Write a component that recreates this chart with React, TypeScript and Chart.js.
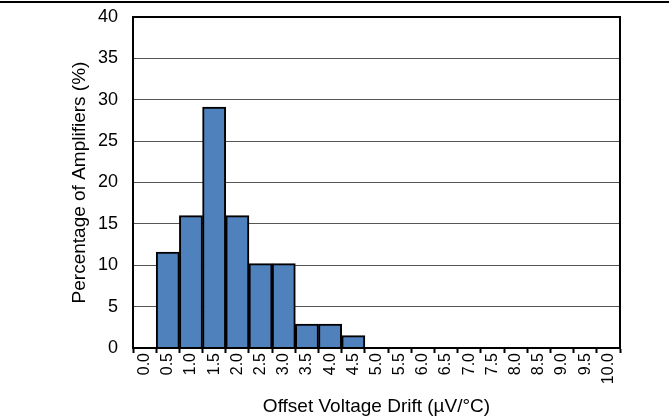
import React, { useEffect, useRef } from "react";
import { Chart, registerables } from "chart.js";

Chart.register(...registerables);

const categories = [
  "0.0", "0.5", "1.0", "1.5", "2.0", "2.5", "3.0", "3.5", "4.0", "4.5",
  "5.0", "5.5", "6.0", "6.5", "7.0", "7.5", "8.0", "8.5", "9.0", "9.5", "10.0",
];
const percentages = [
  0, 11.6, 16.0, 29.1, 16.0, 10.2, 10.2, 2.9, 2.9, 1.5,
  0, 0, 0, 0, 0, 0, 0, 0, 0, 0, 0,
];
const yMin = 0;
const yMax = 40;
const yStep = 5;
const xTitle = "Offset Voltage Drift (µV/°C)";
const yTitle = "Percentage of Amplifiers (%)";

const FONT = "'Liberation Sans', Arial, sans-serif";

const frameBox = {
  id: "frameBox",
  afterDatasetsDraw(chart: any) {
    const { ctx, chartArea } = chart;
    ctx.save();
    ctx.strokeStyle = "#000";
    ctx.lineWidth = 2;
    ctx.strokeRect(
      chartArea.left,
      chartArea.top,
      chartArea.right - chartArea.left,
      chartArea.bottom - chartArea.top
    );
    ctx.restore();
  },
};

export default function App() {
  const ref = useRef<HTMLCanvasElement | null>(null);

  useEffect(() => {
    if (!ref.current) return;
    const chart = new Chart(ref.current, {
      type: "bar",
      data: {
        labels: categories,
        datasets: [
          {
            data: percentages,
            backgroundColor: "#4F81BD",
            borderColor: "#000",
            borderWidth: 2,
            barPercentage: 1,
            categoryPercentage: 1,
          },
        ],
      },
      options: {
        animation: false,
        responsive: false,
        maintainAspectRatio: false,
        layout: { padding: { top: 17, right: 49, left: 0, bottom: 0 } },
        plugins: {
          legend: { display: false },
          tooltip: { enabled: false },
        },
        scales: {
          x: {
            offset: true,
            grid: {
              offset: true,
              drawOnChartArea: false,
              drawTicks: true,
              tickLength: 5,
              tickColor: "#000",
              tickWidth: 2,
            },
            border: { color: "#000", width: 2 },
            ticks: {
              color: "#000",
              font: { family: FONT, size: 16 },
              minRotation: 90,
              maxRotation: 90,
              autoSkip: false,
              padding: 0,
            },
            title: {
              display: true,
              text: xTitle,
              color: "#000",
              font: { family: FONT, size: 19 },
              padding: { top: 0, bottom: 0 },
            },
            afterFit(scale: any) {
              scale.height = 70;
              scale.paddingLeft = 0;
              scale.paddingRight = 0;
              scale.paddingTop = 0;
              scale.paddingBottom = 0;
            },
          },
          y: {
            min: yMin,
            max: yMax,
            grid: {
              color: "#555",
              lineWidth: 1,
              drawTicks: false,
            },
            border: { color: "#000", width: 2 },
            ticks: {
              stepSize: yStep,
              color: "#000",
              font: { family: FONT, size: 18 },
              padding: 15,
            },
            title: {
              display: true,
              text: yTitle,
              color: "#000",
              font: { family: FONT, size: 19 },
              padding: { top: 68, bottom: 0 },
            },
            afterFit(scale: any) {
              scale.width = 133;
              scale.paddingLeft = 0;
              scale.paddingRight = 0;
              scale.paddingTop = 0;
              scale.paddingBottom = 0;
            },
          },
        },
      },
      plugins: [frameBox],
    });
    return () => chart.destroy();
  }, []);

  return (
    <div
      style={{
        position: "fixed",
        left: 0,
        top: 0,
        width: 669,
        height: 418,
        background: "#fff",
      }}
    >
      <div
        style={{
          position: "absolute",
          left: 0,
          top: 1,
          width: 669,
          height: 0,
          borderTop: "2px solid #000",
        }}
      />
      <canvas
        ref={ref}
        width={669}
        height={418}
        style={{ position: "absolute", left: 0, top: 0, width: 669, height: 418 }}
      />
    </div>
  );
}
